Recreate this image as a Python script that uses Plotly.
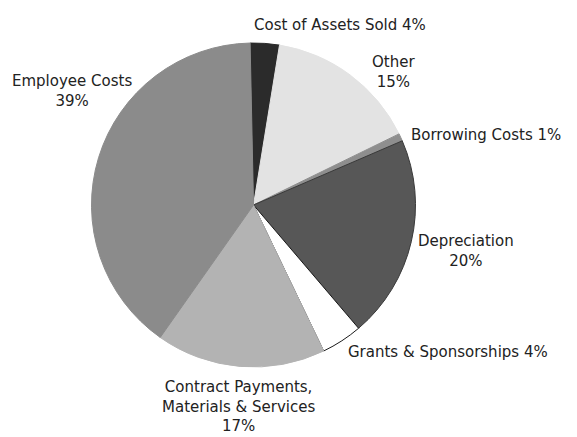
import plotly.graph_objects as go

W, H = 577, 437

categories = ["Cost of Assets Sold", "Other", "Borrowing Costs", "Depreciation",
              "Grants & Sponsorships", "Contract Payments, Materials & Services", "Employee Costs"]
values = [2.9, 15.2, 0.75, 20.25, 4.1, 16.9, 39.9]
label_pct = ["4%", "15%", "1%", "20%", "4%", "17%", "39%"]
label_text = ["Cost of Assets Sold 4%", "Other<br>15%", "Borrowing Costs 1%",
              "Depreciation<br>20%", "Grants & Sponsorships 4%",
              "Contract Payments,<br>Materials & Services<br>17%", "Employee Costs<br>39%"]

colors = ["#2b2b2b", "#e3e3e3", "#8e8e8e", "#575757", "#ffffff", "#b3b3b3", "#8b8b8b"]
line_colors = ["#2b2b2b", "#e3e3e3", "#8e8e8e", "#3a3a3a", "#1a1a1a", "#b3b3b3", "#8b8b8b"]

cx, cy, r = 253.5, 205, 162

fig = go.Figure(go.Pie(
    labels=categories, values=values, sort=False, direction="clockwise",
    rotation=-1.2, textinfo="none", hoverinfo="label+percent",
    marker=dict(colors=colors, line=dict(color=line_colors, width=1)),
    domain=dict(x=[(cx - r) / W, (cx + r) / W], y=[1 - (cy + r) / H, 1 - (cy - r) / H]),
    showlegend=False,
))

# label centres in pixels
label_pos = [(340, 25), (393, 72), (486, 135), (466, 251), (448, 352), (238, 406), (72, 91)]

for txt, (px, py) in zip(label_text, label_pos):
    fig.add_annotation(x=px / W, y=1 - py / H, xref="paper", yref="paper",
                       text=txt, showarrow=False, xanchor="center", yanchor="middle",
                       align="center", font=dict(size=15, color="#222222"))

fig.update_layout(width=W, height=H, margin=dict(l=0, r=0, t=0, b=0),
                  paper_bgcolor="white", plot_bgcolor="white",
                  font=dict(family="'DejaVu Sans', sans-serif", size=15))

fig.write_html("out.html")
